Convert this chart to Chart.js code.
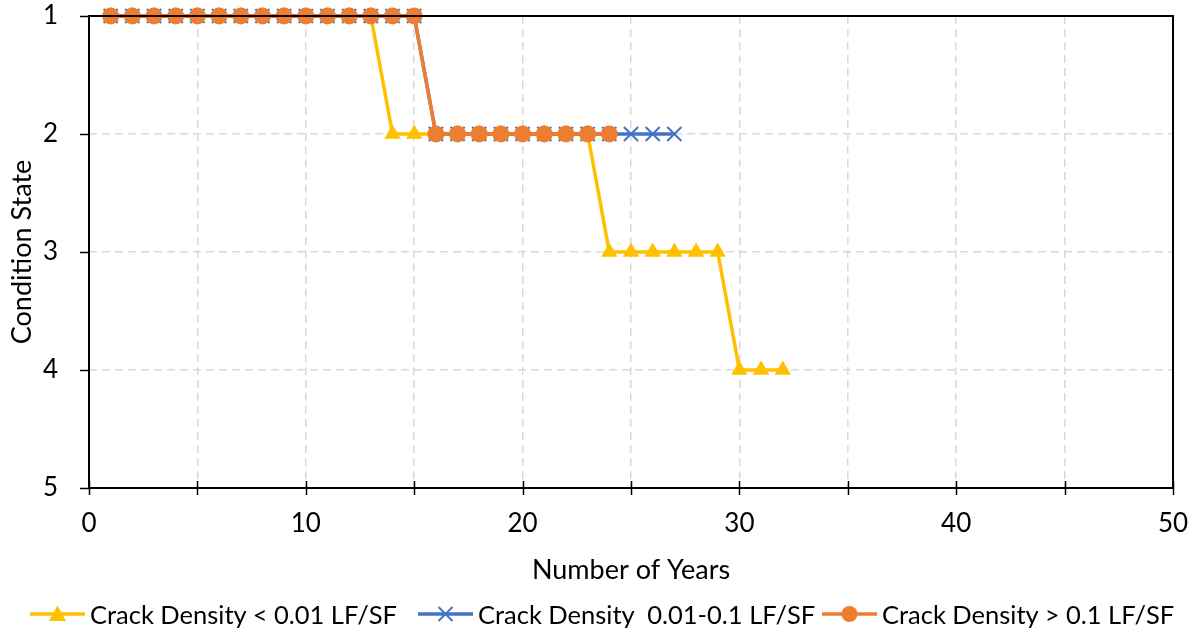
<!DOCTYPE html>
<html>
<head>
<meta charset="utf-8">
<script src="https://cdn.jsdelivr.net/npm/chart.js@4.4.1/dist/chart.umd.min.js"></script>
<style>
  html, body { margin: 0; padding: 0; background: #fff; }
  #wrap { position: relative; width: 1198px; height: 634px; }
  #chart { position: absolute; left: 0; top: 0; }
  #legend {
    position: absolute; left: 0; top: 596px; width: 1198px; height: 36px;
    font-family: Lato, "Open Sans", sans-serif; font-size: 25.5px; color: #000;
  }
  .item { position: absolute; top: 0; display: flex; align-items: center; height: 36px; white-space: pre; }
  .item svg { margin-right: 5px; }
</style>
</head>
<body>
<div id="wrap">
  <canvas id="chart" width="1198" height="634"></canvas>
  <div id="legend"></div>
</div>
<script>
// Condition state by year of service for three crack-density groups
const yearsLow = [1,2,3,4,5,6,7,8,9,10,11,12,13,14,15,16,17,18,19,20,21,22,23,24,25,26,27,28,29,30,31,32];
const stateLow = [1,1,1,1,1,1,1,1,1,1,1,1,1,2,2,2,2,2,2,2,2,2,2,3,3,3,3,3,3,4,4,4];

const yearsMid = [1,2,3,4,5,6,7,8,9,10,11,12,13,14,15,16,17,18,19,20,21,22,23,24,25,26,27];
const stateMid = [1,1,1,1,1,1,1,1,1,1,1,1,1,1,1,2,2,2,2,2,2,2,2,2,2,2,2];

const yearsHigh = [1,2,3,4,5,6,7,8,9,10,11,12,13,14,15,16,17,18,19,20,21,22,23,24];
const stateHigh = [1,1,1,1,1,1,1,1,1,1,1,1,1,1,1,2,2,2,2,2,2,2,2,2];

const seriesNames = ['Crack Density < 0.01 LF/SF', 'Crack Density  0.01-0.1 LF/SF', 'Crack Density > 0.1 LF/SF'];
const seriesColors = ['#FFC000', '#4472C4', '#ED7D31'];

const xTicks = [0, 10, 20, 30, 40, 50];
const yTicks = [1, 2, 3, 4, 5];

const FONT = 'Lato, "Open Sans", sans-serif';

function pts(xs, ys) { return xs.map((x, i) => ({ x: x, y: ys[i] })); }

// Frame, crossing x ticks and outward y ticks
const framePlugin = {
  id: 'frame',
  afterDraw(chart) {
    const { ctx, chartArea: a, scales: { x, y } } = chart;
    ctx.save();
    ctx.strokeStyle = '#000';
    ctx.lineWidth = 2;
    ctx.strokeRect(a.left, a.top, a.right - a.left, a.bottom - a.top);
    ctx.lineWidth = 1.5;
    for (let v = 0; v <= 50; v += 5) {
      const px = Math.round(x.getPixelForValue(v)) + 0.5;
      ctx.beginPath(); ctx.moveTo(px, a.bottom - 7); ctx.lineTo(px, a.bottom + 7); ctx.stroke();
    }
    yTicks.forEach(v => {
      const py = Math.round(y.getPixelForValue(v)) + 0.5;
      ctx.beginPath(); ctx.moveTo(a.left - 9, py); ctx.lineTo(a.left, py); ctx.stroke();
    });
    ctx.restore();
  }
};

new Chart(document.getElementById('chart'), {
  type: 'line',
  data: {
    datasets: [
      {
        label: seriesNames[0], data: pts(yearsLow, stateLow),
        borderColor: seriesColors[0], backgroundColor: seriesColors[0],
        borderWidth: 3.5, pointStyle: 'triangle', pointRadius: 9.5, pointBorderWidth: 0,
        tension: 0, clip: false, order: 3
      },
      {
        label: seriesNames[1], data: pts(yearsMid, stateMid),
        borderColor: seriesColors[1], backgroundColor: seriesColors[1],
        borderWidth: 3.5, pointStyle: 'crossRot', pointRadius: 10, pointBorderWidth: 2,
        tension: 0, clip: false, order: 2
      },
      {
        label: seriesNames[2], data: pts(yearsHigh, stateHigh),
        borderColor: seriesColors[2], backgroundColor: seriesColors[2],
        borderWidth: 3.5, pointStyle: 'circle', pointRadius: 8.5, pointBorderWidth: 0,
        tension: 0, clip: false, order: 1
      }
    ]
  },
  options: {
    responsive: false,
    animation: false,
    layout: { padding: { left: 0, right: 25, top: 16, bottom: 0 } },
    plugins: { legend: { display: false }, tooltip: { enabled: false } },
    scales: {
      x: {
        type: 'linear', min: 0, max: 50,
        afterFit(s) { s.height = 146; s.paddingLeft = 0; s.paddingRight = 0; },
        ticks: {
          stepSize: 5, padding: 20, color: '#000', font: { family: FONT, size: 26 },
          maxRotation: 0, autoSkip: false,
          callback: v => (xTicks.includes(v) ? String(v) : '')
        },
        grid: { color: '#d9d9d9', lineWidth: 1.5, drawTicks: false },
        border: { display: false, dash: [8, 5] },
        title: { display: true, text: 'Number of Years', color: '#000', font: { family: FONT, size: 27 }, padding: { top: 0, bottom: 48 } }
      },
      y: {
        type: 'linear', min: 1, max: 5, reverse: true,
        afterFit(s) { s.width = 89; s.paddingTop = 0; s.paddingBottom = 0; },
        ticks: { stepSize: 1, padding: 31, color: '#000', font: { family: FONT, size: 26 } },
        grid: { color: '#d9d9d9', lineWidth: 1.5, drawTicks: false },
        border: { display: false, dash: [8, 5] },
        title: { display: true, text: 'Condition State', color: '#000', font: { family: FONT, size: 27 }, padding: { top: 6, bottom: 0 } }
      }
    }
  },
  plugins: [framePlugin]
});

// Legend: line sample with the series marker, then the label
const markerSvg = [
  c => `<polygon points="27.5,1.5 36,17 19,17" fill="${c}"/>`,
  c => `<path d="M20.5,3 L34.5,17 M34.5,3 L20.5,17" stroke="${c}" stroke-width="2" fill="none"/>`,
  c => `<circle cx="27.5" cy="10" r="8" fill="${c}"/>`
];
const legendLeft = [30, 418, 822];
const legend = document.getElementById('legend');
seriesNames.forEach((name, i) => {
  const el = document.createElement('div');
  el.className = 'item';
  el.style.left = legendLeft[i] + 'px';
  el.innerHTML = `<svg width="55" height="20"><line x1="0" y1="10" x2="55" y2="10" stroke="${seriesColors[i]}" stroke-width="3.5"/>${markerSvg[i](seriesColors[i])}</svg><span>${name}</span>`;
  legend.appendChild(el);
});
</script>
</body>
</html>
